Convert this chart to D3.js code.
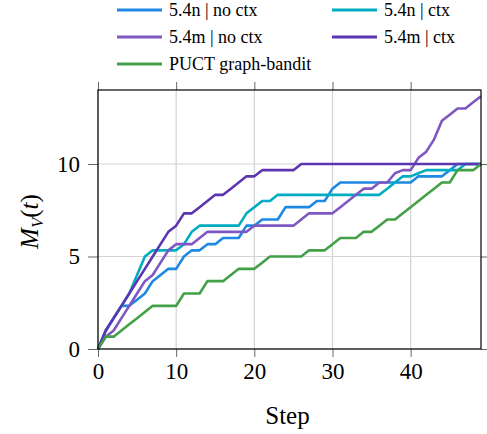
<!DOCTYPE html>
<html>
<head>
<meta charset="utf-8">
<script src="https://cdn.jsdelivr.net/npm/d3@7"></script>
<style>
  body { margin: 0; background: #fff; }
  svg text { font-family: "Liberation Serif", "Times New Roman", serif !important; fill: #000; }
</style>
</head>
<body>
<div id="chart"></div>
<script>
const steps = d3.range(0, 50)

const seriesNames = [
    "5.4n | no ctx",
    "5.4n | ctx",
    "5.4m | no ctx",
    "5.4m | ctx",
    "PUCT graph-bandit",
]
const seriesColors = ["#1e88e5", "#00acc1", "#7e57c2", "#5e35b1", "#43a047"]

const nNoCtx = [0, 1.0, 1.667, 2.333, 2.333, 2.667, 3.0, 3.667, 4.0, 4.333,
    4.333, 5.0, 5.333, 5.333, 5.667, 5.667, 6.0, 6.0, 6.0, 6.667,
    6.667, 7.0, 7.0, 7.0, 7.667, 7.667, 7.667, 7.667, 8.0, 8.0,
    8.667, 9.0, 9.0, 9.0, 9.0, 9.0, 9.0, 9.0, 9.0, 9.0,
    9.0, 9.333, 9.333, 9.333, 9.333, 9.667, 10, 10, 10, 10]

const nCtx = [0, 1.0, 1.667, 2.333, 3.0, 4.0, 5.0, 5.333, 5.333, 5.333,
    5.333, 5.667, 6.333, 6.667, 6.667, 6.667, 6.667, 6.667, 6.667, 7.333,
    7.667, 8.0, 8.0, 8.333, 8.333, 8.333, 8.333, 8.333, 8.333, 8.333,
    8.333, 8.333, 8.333, 8.333, 8.333, 8.333, 8.333, 8.667, 9.0, 9.333,
    9.333, 9.5, 9.667, 9.667, 9.667, 9.667, 9.667, 10, 10, 10]

const mNoCtx = [0, 0.667, 1.0, 1.667, 2.333, 3.0, 3.667, 4.0, 4.667, 5.333,
    5.667, 5.667, 5.667, 6.0, 6.333, 6.333, 6.333, 6.333, 6.333, 6.333,
    6.667, 6.667, 6.667, 6.667, 6.667, 6.667, 7.0, 7.333, 7.333, 7.333,
    7.333, 7.667, 8.0, 8.333, 8.667, 8.667, 9.0, 9.0, 9.5, 9.667,
    9.667, 10.333, 10.667, 11.333, 12.333, 12.667, 13.0, 13.0, 13.333, 13.667]

const mCtx = [0, 1.0, 1.667, 2.333, 3.0, 3.667, 4.333, 5.0, 5.667, 6.333,
    6.667, 7.333, 7.333, 7.667, 8.0, 8.333, 8.333, 8.667, 9.0, 9.333,
    9.333, 9.667, 9.667, 9.667, 9.667, 9.667, 10, 10, 10, 10,
    10, 10, 10, 10, 10, 10, 10, 10, 10, 10,
    10, 10, 10, 10, 10, 10, 10, 10, 10, 10]

const puct = [0, 0.667, 0.667, 1.0, 1.333, 1.667, 2.0, 2.333, 2.333, 2.333,
    2.333, 3.0, 3.0, 3.0, 3.667, 3.667, 3.667, 4.0, 4.333, 4.333,
    4.333, 4.667, 5.0, 5.0, 5.0, 5.0, 5.0, 5.333, 5.333, 5.333,
    5.667, 6.0, 6.0, 6.0, 6.333, 6.333, 6.667, 7.0, 7.0, 7.333,
    7.667, 8.0, 8.333, 8.667, 9.0, 9.0, 9.667, 9.667, 9.667, 10]

const xTicks = [0, 10, 20, 30, 40]
const yTicks = [0, 5, 10]

const serif = "'Liberation Serif', 'Times New Roman', serif"

function drawChart() {
    var allSeries = [nNoCtx, nCtx, mNoCtx, mCtx, puct]

    var width = 487, height = 434
    var margin = {top: 90, right: 6, bottom: 85, left: 98}
    var plotW = width - margin.left - margin.right
    var plotH = height - margin.top - margin.bottom

    var svg = d3.select("#chart").append("svg")
        .attr("width", width)
        .attr("height", height)
        .attr("font-family", serif)

    var x = d3.scaleLinear().domain([0, 49]).range([margin.left, margin.left + plotW])
    var y = d3.scaleLinear().domain([0, 14]).range([margin.top + plotH, margin.top])

    // grid
    var grid = svg.append("g")
    grid.selectAll(".gx").data(xTicks).enter().append("line")
        .attr("x1", d => x(d)).attr("x2", d => x(d))
        .attr("y1", y(0)).attr("y2", y(14))
        .attr("stroke", "#d3d3d3").attr("stroke-width", 1.2)
    grid.selectAll(".gy").data(yTicks).enter().append("line")
        .attr("x1", x(0)).attr("x2", x(49))
        .attr("y1", d => y(d)).attr("y2", d => y(d))
        .attr("stroke", "#d3d3d3").attr("stroke-width", 1.2)

    // axes with outside ticks on all four sides
    var axisBottom = d3.axisBottom(x).tickValues(xTicks).tickSize(8).tickPadding(6)
    var axisTop = d3.axisTop(x).tickValues(xTicks).tickSize(8).tickFormat("")
    var axisLeft = d3.axisLeft(y).tickValues(yTicks).tickSize(10).tickPadding(8)
    var axisRight = d3.axisRight(y).tickValues(yTicks).tickSize(6).tickFormat("")

    var gb = svg.append("g").attr("transform", "translate(0," + y(0) + ")").call(axisBottom)
    var gt = svg.append("g").attr("transform", "translate(0," + y(14) + ")").call(axisTop)
    var gl = svg.append("g").attr("transform", "translate(" + x(0) + ",0)").call(axisLeft)
    var gr = svg.append("g").attr("transform", "translate(" + x(49) + ",0)").call(axisRight)

    ;[gb, gt, gl, gr].forEach(function(g) {
        g.attr("font-family", serif).attr("font-size", 23)
        g.select(".domain").remove()
        g.selectAll(".tick line").attr("stroke", "#666").attr("stroke-width", 1)
        g.selectAll(".tick text").attr("fill", "#000")
    })

    // lines
    var line = d3.line()
        .x((d, i) => x(steps[i]))
        .y(d => y(d))

    svg.append("g").selectAll("path")
        .data(allSeries)
        .enter().append("path")
        .attr("d", line)
        .attr("fill", "none")
        .attr("stroke", (d, i) => seriesColors[i])
        .attr("stroke-width", 2.6)
        .attr("stroke-linejoin", "round")

    // frame
    svg.append("rect")
        .attr("x", x(0)).attr("y", y(14))
        .attr("width", x(49) - x(0)).attr("height", y(0) - y(14))
        .attr("fill", "none").attr("stroke", "#000").attr("stroke-width", 1.2)

    // axis labels
    svg.append("text")
        .attr("x", x(0) + plotW / 2 - 2)
        .attr("y", 424)
        .attr("text-anchor", "middle")
        .attr("font-size", 25)
        .text("Step")

    var yl = svg.append("text")
        .attr("transform", "translate(38," + (margin.top + plotH / 2 + 2) + ") rotate(-90)")
        .attr("text-anchor", "middle")
        .attr("font-size", 25)
    yl.append("tspan").attr("font-style", "italic").text("M")
    yl.append("tspan").attr("font-style", "italic").attr("font-size", 17).attr("dy", 5).text("V")
    yl.append("tspan").attr("dy", -5).text("(")
    yl.append("tspan").attr("font-style", "italic").text("t")
    yl.append("tspan").text(")")

    // legend
    var legendPos = [[117, 10], [332, 10], [117, 37], [332, 37], [117, 64]]
    var legend = svg.append("g").selectAll("g")
        .data(seriesNames)
        .enter().append("g")
        .attr("transform", (d, i) => "translate(" + legendPos[i][0] + "," + legendPos[i][1] + ")")
    legend.append("line")
        .attr("x1", 0).attr("x2", 45)
        .attr("stroke", (d, i) => seriesColors[i])
        .attr("stroke-width", 3)
    legend.append("text")
        .attr("x", 52).attr("y", 6)
        .attr("font-size", 18)
        .text(d => d)
}

drawChart()
</script>
</body>
</html>
